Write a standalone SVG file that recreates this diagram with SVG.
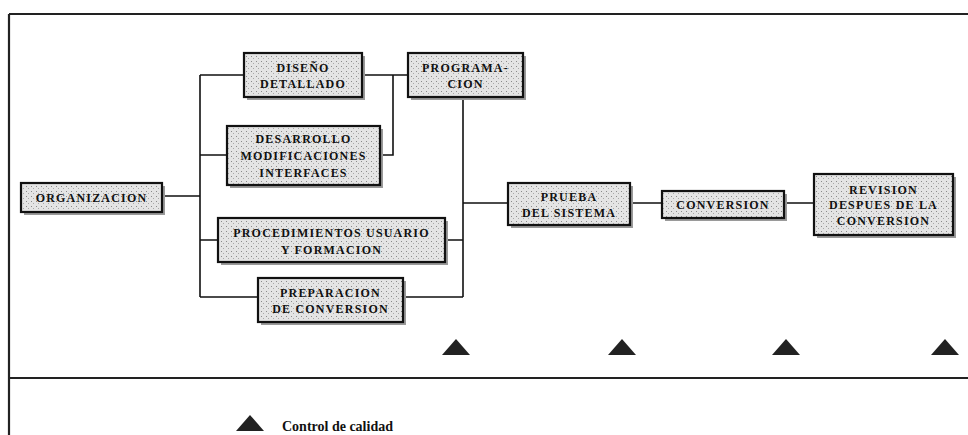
<svg xmlns="http://www.w3.org/2000/svg" width="968" height="435" viewBox="0 0 968 435">
  <defs>
    <pattern id="stip" width="5" height="5" patternUnits="userSpaceOnUse">
      <rect width="5" height="5" fill="#e4e4e4"/>
      <rect x="1" y="1" width="1" height="1" fill="#8a8a8a"/>
      <rect x="3" y="3" width="1" height="1" fill="#a8a8a8"/>
    </pattern>
    <polygon id="tri" points="0,-8 14,8 -14,8"/>
  </defs>
  <style>
    .box{fill:url(#stip);stroke:#111;stroke-width:2.2}
    .sh{fill:#9a9a9a}
    .t{font-family:"Liberation Serif","DejaVu Serif",serif;font-weight:bold;font-size:12px;letter-spacing:1.2px;fill:#111;text-anchor:middle}
    .c{fill:none;stroke:#111;stroke-width:1.6}
    .frame{fill:none;stroke:#222;stroke-width:2.2}
    .q{fill:#222}
    .lg{font-family:"Liberation Serif","DejaVu Serif",serif;font-weight:bold;font-size:14px;fill:#111}
  </style>
  <rect width="968" height="435" fill="#fff"/>
  <g id="frame">
    <path class="frame" d="M9,14 H968 M9,14 V435"/>
    <path class="frame" d="M10,378 H968" stroke-width="1.8"/>
  </g>
  <g id="connectors">
    <path class="c" d="M162,196 H200 M200,75 V297 M200,75 H244 M200,155 H227 M200,240 H218 M200,297 H258"/>
    <path class="c" d="M362,75 H408 M393,75 V155 H380"/>
    <path class="c" d="M463,97 V297 M445,240 H463 M403,297 H463 M463,203 H508"/>
    <path class="c" d="M630,203 H662 M784,203 H814"/>
  </g>
  <g id="organizacion">
    <rect class="sh" x="24" y="186" width="141" height="29"/>
    <rect class="box" x="21" y="183" width="141" height="29"/>
    <text class="t" x="91.5" y="202">ORGANIZACION</text>
  </g>
  <g id="diseno">
    <rect class="sh" x="247" y="56" width="118" height="44"/>
    <rect class="box" x="244" y="53" width="118" height="44"/>
    <text class="t" x="303" y="72">DISEÑO</text>
    <text class="t" x="303" y="88">DETALLADO</text>
  </g>
  <g id="programacion">
    <rect class="sh" x="411" y="56" width="115" height="44"/>
    <rect class="box" x="408" y="53" width="115" height="44"/>
    <text class="t" x="465.5" y="72">PROGRAMA-</text>
    <text class="t" x="465.5" y="88">CION</text>
  </g>
  <g id="desarrollo">
    <rect class="sh" x="230" y="129" width="153" height="59"/>
    <rect class="box" x="227" y="126" width="153" height="59"/>
    <text class="t" x="303.5" y="143">DESARROLLO</text>
    <text class="t" x="303.5" y="160">MODIFICACIONES</text>
    <text class="t" x="303.5" y="177">INTERFACES</text>
  </g>
  <g id="procedimientos">
    <rect class="sh" x="221" y="221" width="227" height="44"/>
    <rect class="box" x="218" y="218" width="227" height="44"/>
    <text class="t" x="331.5" y="237">PROCEDIMIENTOS USUARIO</text>
    <text class="t" x="331.5" y="254">Y FORMACION</text>
  </g>
  <g id="preparacion">
    <rect class="sh" x="261" y="281" width="145" height="44"/>
    <rect class="box" x="258" y="278" width="145" height="44"/>
    <text class="t" x="330.5" y="297">PREPARACION</text>
    <text class="t" x="330.5" y="313">DE CONVERSION</text>
  </g>
  <g id="prueba">
    <rect class="sh" x="511" y="186" width="122" height="42"/>
    <rect class="box" x="508" y="183" width="122" height="42"/>
    <text class="t" x="569" y="201">PRUEBA</text>
    <text class="t" x="569" y="217">DEL SISTEMA</text>
  </g>
  <g id="conversion">
    <rect class="sh" x="665" y="194" width="122" height="27"/>
    <rect class="box" x="662" y="191" width="122" height="27"/>
    <text class="t" x="723" y="209">CONVERSION</text>
  </g>
  <g id="revision">
    <rect class="sh" x="817" y="177" width="139" height="61"/>
    <rect class="box" x="814" y="174" width="139" height="61"/>
    <text class="t" x="883.5" y="194">REVISION</text>
    <text class="t" x="883.5" y="209">DESPUES DE LA</text>
    <text class="t" x="883.5" y="225">CONVERSION</text>
  </g>
  <g id="quality">
    <use href="#tri" class="q" x="456" y="347"/>
    <use href="#tri" class="q" x="622" y="347"/>
    <use href="#tri" class="q" x="786" y="347"/>
    <use href="#tri" class="q" x="945" y="347"/>
  </g>
  <g id="legend">
    <use href="#tri" class="q" x="250" y="423"/>
    <text class="lg" x="282" y="431">Control de calidad</text>
  </g>
</svg>
